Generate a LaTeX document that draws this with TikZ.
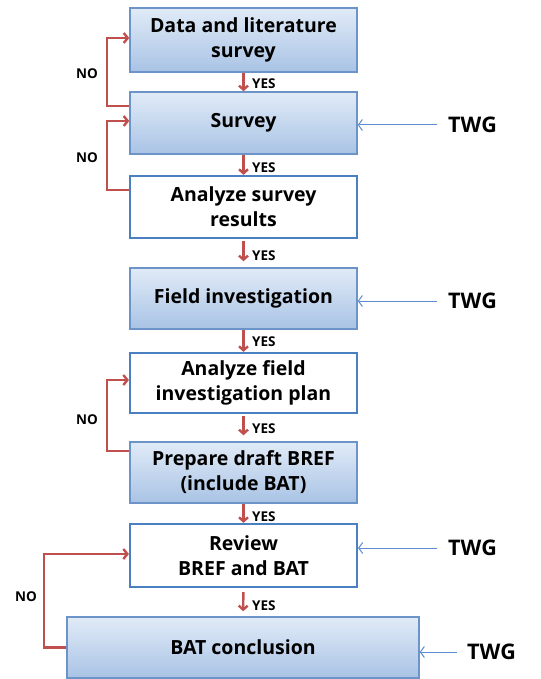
\documentclass[tikz,border=0pt]{standalone}
\usepackage{fontspec}
\setmainfont{Open Sans}
\usetikzlibrary{arrows.meta,calc}
\definecolor{boxtop}{HTML}{E1EBF7}
\definecolor{boxbot}{HTML}{A9C3E5}
\definecolor{boxline}{HTML}{6C94C9}
\definecolor{wline}{HTML}{4A7FC1}
\definecolor{nored}{HTML}{C0504D}
\definecolor{twgblue}{HTML}{5B8BD0}
\tikzset{
  shadedbox/.style={draw=boxline, line width=1.5pt, top color=boxtop, bottom color=boxbot,
    minimum width=227pt, align=center, font=\bfseries\fontsize{19.5}{25}\selectfont, inner sep=0pt},
  whitebox/.style={draw=wline, line width=2.2pt, fill=white,
    minimum width=227pt, align=center, font=\bfseries\fontsize{19.5}{25}\selectfont, inner sep=0pt},
  yesarrow/.style={draw=nored, line width=2.4pt, -{Straight Barb[length=4pt,width=9pt]}},
  noarrow/.style={draw=nored, line width=2.4pt, -{Straight Barb[length=4pt,width=10pt]}},
  lbl/.style={font=\bfseries\fontsize{13.5}{14}\selectfont, inner sep=0pt},
  twg/.style={font=\bfseries\fontsize{21.5}{24}\selectfont, inner sep=0pt},
  twgarrow/.style={draw=twgblue, line width=1pt, -{Straight Barb[length=4pt,width=11pt]}}
}
\begin{document}
\begin{tikzpicture}[x=1pt,y=-1pt]
\useasboundingbox (0,0) rectangle (540,679);
\node[shadedbox, minimum height=64pt] (b1) at (243.5,40) {Data and literature\\survey};
\node[shadedbox, minimum height=62pt] (b2) at (243.5,123) {Survey};
\node[whitebox, minimum height=62pt] (b3) at (243.5,207) {Analyze survey\\results};
\node[shadedbox, minimum height=61pt] (b4) at (243.5,298.5) {Field investigation};
\node[whitebox, minimum height=60pt] (b5) at (243.5,383) {Analyze field\\investigation plan};
\node[shadedbox, minimum height=61pt] (b6) at (243.5,472.5) {Prepare draft BREF\\(include BAT)};
\node[whitebox, minimum height=63pt] (b7) at (243.5,555.5) {Review\\BREF and BAT};
\node[shadedbox, minimum height=61pt, minimum width=352pt] (b8) at (243,647.5) {BAT conclusion};

% YES arrows
\draw[yesarrow] (b1.south) -- (b2.north);
\draw[yesarrow] (b2.south) -- (b3.north);
\draw[yesarrow, shorten <=2pt, shorten >=6pt] (b3.south) -- (b4.north);
\draw[yesarrow] (b4.south) -- (b5.north);
\draw[yesarrow, shorten <=2pt, shorten >=6pt] (b5.south) -- (b6.north);
\draw[yesarrow] (b6.south) -- (b7.north);
\draw[yesarrow, shorten <=4pt, shorten >=5pt] (b7.south) -- (b8.north);

\node[lbl, anchor=west] (y1) at (252,84) {YES};
\node[lbl, anchor=west] (y2) at (252,168) {YES};
\node[lbl, anchor=west] (y3) at (252,256) {YES};
\node[lbl, anchor=west] (y4) at (252,342) {YES};
\node[lbl, anchor=west] (y5) at (252,429) {YES};
\node[lbl, anchor=west] (y6) at (252,517) {YES};
\node[lbl, anchor=west] (y7) at (252,606) {YES};

% NO loops
\draw[noarrow] (b2.north west) ++(0,15) -- ++(-22,0) |- ([yshift=2pt]b1.west);
\draw[noarrow] (b3.north west) ++(0,15) -- ++(-22,0) |- ([yshift=2pt]b2.west);
\draw[noarrow] (b6.north west) ++(0,10) -- ++(-22,0) |- ([yshift=3pt]b5.west);
\draw[noarrow] (b8.west) -- ++(-22,0) |- ([yshift=1.5pt]b7.west);

\node[lbl] (n1) at (87,74) {NO};
\node[lbl] (n2) at (87,158) {NO};
\node[lbl] (n3) at (87,420) {NO};
\node[lbl] (n4) at (26,597) {NO};

% TWG
\node[twg, anchor=west, inner xsep=11pt] (t1) at (437,125) {TWG};
\node[twg, anchor=west, inner xsep=11pt] (t2) at (437,301) {TWG};
\node[twg, anchor=west, inner xsep=11pt] (t3) at (437,548) {TWG};
\node[twg, anchor=west, inner xsep=10pt] (t4) at (457,652) {TWG};
\draw[twgarrow] (t1.west) -- (t1.west -| b2.east);
\draw[twgarrow] (t2.west) -- (t2.west -| b4.east);
\draw[twgarrow] (t3.west) -- (t3.west -| b7.east);
\draw[twgarrow] (t4.west) -- (t4.west -| b8.east);
\end{tikzpicture}
\end{document}
